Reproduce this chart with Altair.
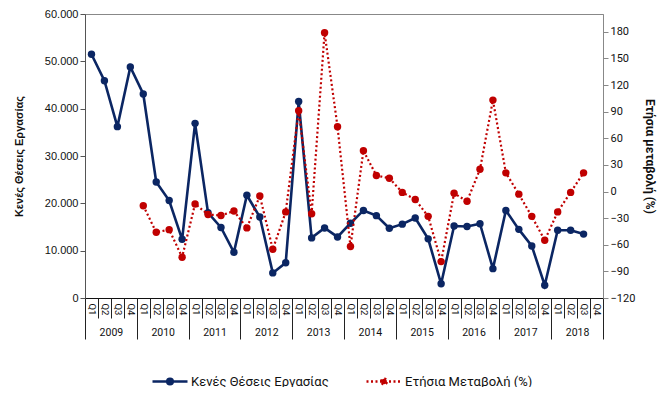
import json
import altair as alt
import pandas as pd

# ---------------- data ----------------
years = ["2009", "2010", "2011", "2012", "2013", "2014", "2015", "2016", "2017", "2018"]
quarters = ["Q1", "Q2", "Q3", "Q4"]

# Job vacancies, 2009 Q1 .. 2018 Q3
vacancies = [51500, 45900, 36200, 48800,
             43100, 24500, 20600, 12400,
             36900, 18000, 14900, 9650,
             21700, 17100, 5300, 7450,
             41500, 12700, 14800, 12900,
             15800, 18500, 17400, 14750,
             15600, 16900, 12500, 3000,
             15200, 15100, 15700, 6200,
             18500, 14500, 11000, 2700,
             14300, 14300, 13500]

# Yearly change (%), 2010 Q1 .. 2018 Q3
yoy_change = [-16, -46, -43, -74,
              -14, -26, -27, -22,
              -41, -5, -65, -23,
              91, -25, 179, 73,
              -62, 46, 18, 15,
              -1, -9, -28, -79,
              -2, -11, 25, 103,
              21, -3, -28, -55,
              -23, -1, 21]

series_names = ["Κενές Θέσεις Εργασίας", "Ετήσια Μεταβολή (%)"]
left_title = "Κενές Θέσεις Εργασίας"
right_title = "Ετήσια μεταβολή (%)"
left_ticks = [0, 10000, 20000, 30000, 40000, 50000, 60000]
right_ticks = [-120, -90, -60, -30, 0, 30, 60, 90, 120, 150, 180]

# ---------------- tables ----------------
n_periods = len(years) * len(quarters)
red_start = len(quarters)  # yearly change starts one year later

blue_df = pd.DataFrame({"t": list(range(len(vacancies))), "v": vacancies,
                        "series": series_names[0]})
red_df = pd.DataFrame({"t": list(range(red_start, red_start + len(yoy_change))),
                       "v": yoy_change, "series": series_names[1]})

NAVY = "#0B2663"
RED = "#C00000"
RED_DASH = [2, 2.5]

x_scale = alt.Scale(domain=[-0.5, n_periods - 0.5], nice=False, zero=False)

quarter_label_axis = alt.Axis(
    orient="bottom", values=list(range(n_periods)),
    labelExpr=f"{json.dumps(quarters)}[datum.value % 4]",
    labelAngle=90, labelFont="Roboto", labelFontSize=9.5, labelColor="#111",
    labelPadding=5, labelOverlap=False, labelFlush=False,
    ticks=False, domain=True, domainColor="#111", domainWidth=1,
    grid=False, title=None)

quarter_sep_axis = alt.Axis(
    orient="bottom", values=[i - 0.5 for i in range(n_periods + 1)],
    labels=False, ticks=True, tickSize=20, tickColor="#222", tickWidth=1,
    domain=False, grid=False, title=None)

year_sep_axis = alt.Axis(
    orient="bottom", values=[i * 4 - 0.5 for i in range(len(years) + 1)],
    labels=False, ticks=True, tickSize=41, tickColor="#222", tickWidth=1,
    domain=False, grid=False, title=None)

year_label_axis = alt.Axis(
    orient="bottom", values=[i * 4 + 1.5 for i in range(len(years))],
    labelExpr=f"{json.dumps(years)}[floor(datum.value / 4)]",
    labelFont="Roboto", labelFontSize=10.5, labelColor="#111",
    labelPadding=29, labelOverlap=False, labelFlush=False,
    ticks=False, domain=False, grid=False, title=None)

legend_path = ("M-1,0 L1,0 M-0.16,0 A0.16,0.16 0 1,1 0.16,0 "
               "A0.16,0.16 0 1,1 -0.16,0 Z")


def make_legend(x, col):
    extra = {"symbolDash": RED_DASH} if col == RED else {}
    return alt.Legend(
        orient="none", legendX=x, legendY=348.5, direction="horizontal",
        title=None, symbolType=legend_path, symbolSize=1225,
        symbolStrokeWidth=2.5, symbolFillColor=col, symbolStrokeColor=col,
        symbolOpacity=1, labelFont="Roboto", labelFontSize=13,
        labelColor="#111", labelOffset=2, padding=0, **extra)


left_axis = alt.Axis(
    orient="left", values=left_ticks,
    labelExpr="replace(format(datum.value, ','), ',', '.')",
    labelFont="Liberation Sans", labelFontSize=11, labelColor="#111",
    tickSize=5, tickColor="#555", domainColor="#555", grid=False,
    title=left_title, titleFont="Liberation Sans", titleFontSize=11,
    titleFontWeight="bold", titleColor="#111", titlePadding=20)

right_axis = alt.Axis(
    orient="right", values=right_ticks,
    labelFont="Roboto", labelFontSize=11, labelColor="#111",
    tickSize=5, tickColor="#888", domainColor="#888", grid=False,
    title=right_title, titleFont="Roboto", titleFontSize=12,
    titleFontWeight="bold", titleColor="#111", titlePadding=8)

y_left = alt.Scale(domain=[0, 60000], nice=False, zero=True)
y_right = alt.Scale(domain=[-120, 200], nice=False, zero=False)

blue_line = alt.Chart(blue_df).mark_line(
    strokeWidth=2.6, point=alt.OverlayMarkDef(filled=True, size=55, opacity=1)
).encode(
    x=alt.X("t:Q", scale=x_scale, axis=quarter_label_axis),
    y=alt.Y("v:Q", scale=y_left, axis=left_axis),
    color=alt.Color("series:N", scale=alt.Scale(domain=[series_names[0]], range=[NAVY]),
                    legend=make_legend(66, NAVY)),
)

# invisible layers that only carry the separator axes
ghost_q = alt.Chart(blue_df).mark_point(opacity=0).encode(
    x=alt.X("t:Q", scale=x_scale, axis=quarter_sep_axis),
)
ghost_y = alt.Chart(blue_df).mark_point(opacity=0).encode(
    x=alt.X("t:Q", scale=x_scale, axis=year_sep_axis),
)

blue_group = alt.layer(blue_line, ghost_q, ghost_y).resolve_axis(x="independent")

red_line = alt.Chart(red_df).mark_line(
    strokeWidth=2.2, strokeDash=RED_DASH,
    point=alt.OverlayMarkDef(filled=True, size=55, opacity=1, strokeDash=[1, 0])
).encode(
    x=alt.X("t:Q", scale=x_scale, axis=year_label_axis),
    y=alt.Y("v:Q", scale=y_right, axis=right_axis),
    color=alt.Color("series:N", scale=alt.Scale(domain=[series_names[1]], range=[RED]),
                    legend=make_legend(280, RED)),
)

chart = alt.layer(blue_group, red_line).resolve_scale(
    y="independent", color="independent"
).resolve_axis(
    x="independent"
).properties(
    width=518, height=284,
    autosize=alt.AutoSizeParams(type="none"),
    padding={"left": 77, "top": 6, "right": 57, "bottom": 89},
    background="white",
).configure_view(
    stroke="#888", strokeWidth=1
)

chart.save("out.html", embed_options={"renderer": "svg", "actions": False})
